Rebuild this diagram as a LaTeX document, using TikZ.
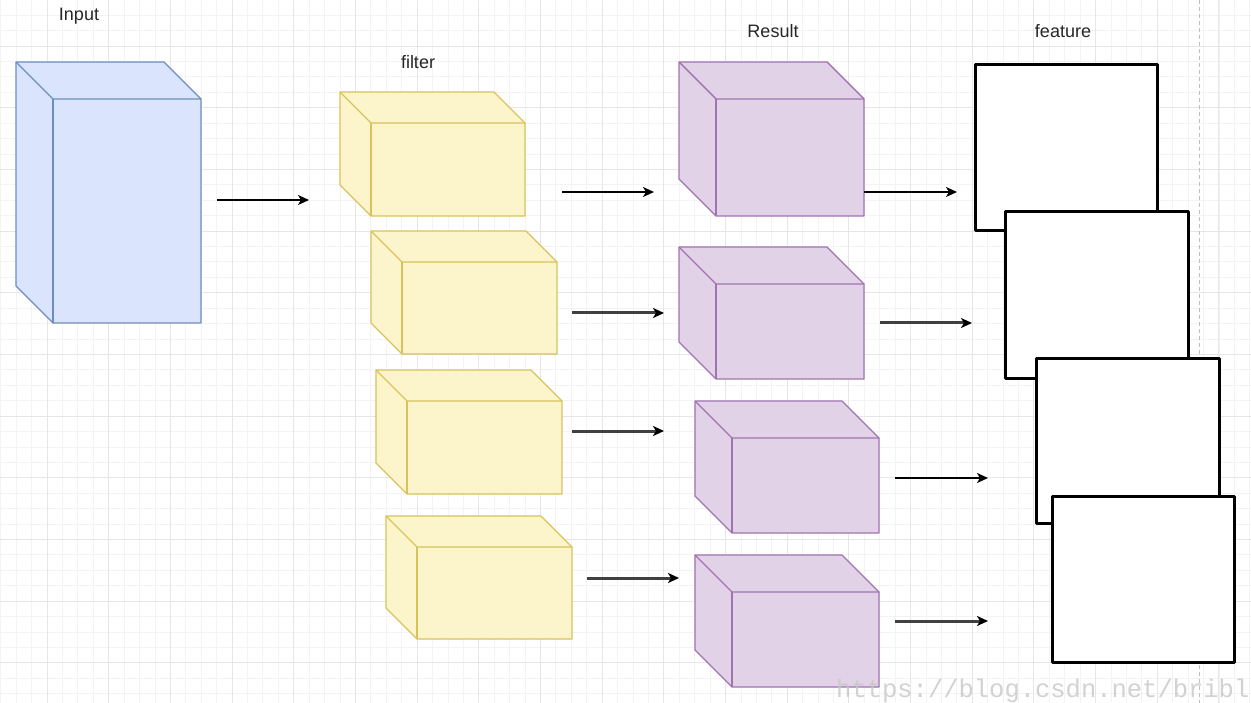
\documentclass[tikz,border=0pt]{standalone}
\usepackage{fontspec}
\setmainfont{Liberation Sans}
\newfontfamily\wmfont{Liberation Mono}
\usetikzlibrary{arrows.meta}
\definecolor{bluefill}{HTML}{DAE4FC}
\definecolor{bluestroke}{HTML}{6C8EBF}
\definecolor{yelfill}{HTML}{FCF5CC}
\definecolor{yelstroke}{HTML}{D9C25E}
\definecolor{purfill}{HTML}{E1D2E7}
\definecolor{purstroke}{HTML}{A173B0}
\definecolor{gridminor}{HTML}{F3F3F3}
\definecolor{gridmajor}{HTML}{E6E6E6}
\definecolor{arrgray}{HTML}{404040}
\tikzset{
  bluecube/.style={draw=bluestroke, fill=bluefill, line width=1.4pt, line join=round},
  yelcube/.style={draw=yelstroke, fill=yelfill, line width=1.4pt, line join=round},
  purcube/.style={draw=purstroke, fill=purfill, line width=1.4pt, line join=round},
  featbox/.style={draw=black, fill=white, line width=2.6pt, line join=round},
  label/.style={font=\fontsize{18}{20}\selectfont, text=black!85, inner sep=0pt},
  arrblack/.style={draw=black, line width=1.6pt, -{Stealth[length=11pt,width=10pt,inset=3pt]}},
  arrgrey/.style={draw=arrgray, line width=3pt, -{Stealth[length=11pt,width=10pt,inset=3pt,color=black]}},
}
% cube: style, xleft, ytop, xright, ybottom, depth
\newcommand\drawcube[6]{%
  \filldraw[#1] (#2,#3) -- ({#4-#6},#3) -- (#4,{#3+#6}) -- (#4,#5) -- ({#2+#6},#5) -- (#2,{#5-#6}) -- cycle;
  \draw[#1, fill=none] (#2,#3) -- ({#2+#6},{#3+#6}) -- (#4,{#3+#6});
  \draw[#1, fill=none] ({#2+#6},{#3+#6}) -- ({#2+#6},#5);
}
\begin{document}
\begin{tikzpicture}[x=1pt, y=-1pt]
\useasboundingbox (0,0) rectangle (1251,703);
\fill[white] (0,0) rectangle (1251,703);
% grid
\foreach \i in {-3,...,80} {
  \pgfmathsetmacro\gx{47+15.42*\i}
  \pgfmathsetmacro\gy{46+15.42*\i}
  \draw[gridminor, line width=0.8pt] (\gx,0) -- (\gx,703);
  \draw[gridminor, line width=0.8pt] (0,\gy) -- (1251,\gy);
}
\foreach \i in {-1,...,20} {
  \pgfmathsetmacro\gx{47+61.68*\i}
  \pgfmathsetmacro\gy{46+61.68*\i}
  \draw[gridmajor, line width=0.9pt] (\gx,0) -- (\gx,703);
  \draw[gridmajor, line width=0.9pt] (0,\gy) -- (1251,\gy);
}
\draw[black!25, line width=1pt, dash pattern=on 4pt off 3pt] (1199,0) -- (1199,703);

% labels
\node[label] (linput) at (79,16) {Input};
\node[label] (lfilter) at (418,62) {filter};
\node[label] (lresult) at (773,31) {Result};
\node[label] (lfeature) at (1063,31) {feature};

% input cube
\drawcube{bluecube}{16}{62}{201}{323}{37}
% filter cubes
\drawcube{yelcube}{340}{92}{525}{216}{31}
\drawcube{yelcube}{371}{231}{557}{354}{31}
\drawcube{yelcube}{376}{370}{562}{494}{31}
\drawcube{yelcube}{386}{516}{572}{639}{31}
% result cubes
\drawcube{purcube}{679}{62}{864}{216}{37}
\drawcube{purcube}{679}{247}{864}{379}{37}
\drawcube{purcube}{695}{401}{879}{533}{37}
\drawcube{purcube}{695}{555}{879}{687}{37}

% feature maps
\node[featbox, minimum width=182pt, minimum height=166pt, anchor=north west] (f1) at (974,63) {};
\node[featbox, minimum width=183pt, minimum height=167pt, anchor=north west] (f2) at (1004,210) {};
\node[featbox, minimum width=183pt, minimum height=165pt, anchor=north west] (f3) at (1035,357) {};
\node[featbox, minimum width=182pt, minimum height=166pt, anchor=north west] (f4) at (1051,495) {};

% arrow end points
\coordinate (a0s) at (217,200); \coordinate (a0e) at (309,200);
\coordinate (a1s) at (562,192); \coordinate (a1e) at (654,192);
\coordinate (a2s) at (572,313); \coordinate (a2e) at (664,313);
\coordinate (a3s) at (572,431); \coordinate (a3e) at (664,431);
\coordinate (a4s) at (587,578); \coordinate (a4e) at (679,578);
\coordinate (b1s) at (864,192); \coordinate (b1e) at (957,192);
\coordinate (b2s) at (880,323); \coordinate (b2e) at (972,323);
\coordinate (b3s) at (895,478); \coordinate (b3e) at (988,478);
\coordinate (b4s) at (895,621); \coordinate (b4e) at (988,621);

\draw[arrblack] (a0s) -- (a0e);
\draw[arrblack] (a1s) -- (a1e);
\draw[arrgrey] (a2s) -- (a2e);
\draw[arrgrey] (a3s) -- (a3e);
\draw[arrgrey] (a4s) -- (a4e);
\draw[arrblack] (b1s) -- (b1e);
\draw[arrgrey] (b2s) -- (b2e);
\draw[arrblack] (b3s) -- (b3e);
\draw[arrgrey] (b4s) -- (b4e);

% watermark
\node[anchor=base west, inner sep=0pt, text=black!22, opacity=0.8, font=\wmfont\fontsize{25.5}{26}\selectfont] (wm) at (836,697) {https://blog.csdn.net/bribl};
\end{tikzpicture}
\end{document}
